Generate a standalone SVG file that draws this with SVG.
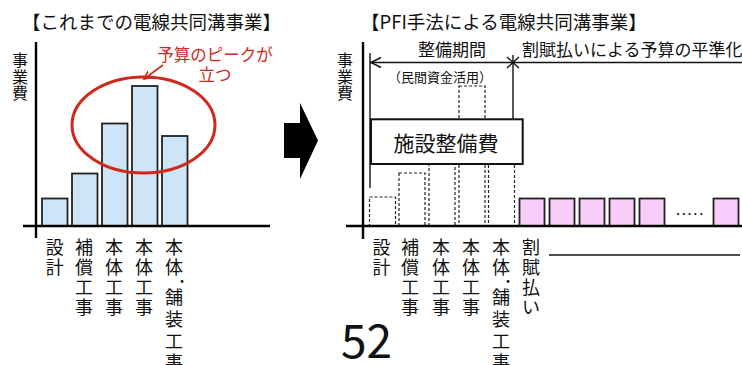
<svg xmlns="http://www.w3.org/2000/svg" width="742" height="365" viewBox="0 0 742 365">
<style>
text{font-family:"Noto Sans CJK JP","Noto Sans CJK SC",sans-serif;fill:#111}
.ttl{font-size:18.5px}
.yl{font-size:16px;text-anchor:middle}
.xl{font-size:18px;text-anchor:middle}
.dot{font-size:13px;text-anchor:middle}
.red{font-size:16.5px;fill:#d0281c;text-anchor:middle}
.axis{stroke:#000;stroke-width:2.4;fill:none}
.bar{fill:#cde5f7;stroke:#222;stroke-width:1.8}
.dash{fill:none;stroke:#222;stroke-width:1.2;stroke-dasharray:3 2}
.pink{fill:#f9ccf9;stroke:#222;stroke-width:1.8}
.thin{stroke:#111;stroke-width:1.4;fill:none}
</style>
<defs>
<marker id="redhead" markerWidth="10" markerHeight="10" refX="8" refY="5" orient="auto" markerUnits="userSpaceOnUse">
<path d="M0,1 L8,5 L0,9" fill="none" stroke="#d0281c" stroke-width="1.6"/>
</marker>
</defs>

<g id="left-chart">
<text class="ttl" x="22" y="29">【これまでの電線共同溝事業】</text>
<text class="yl"><tspan x="20" y="66">事</tspan><tspan x="20" y="82.5">業</tspan><tspan x="20" y="99">費</tspan></text>
<rect class="bar" x="42" y="198.5" width="25.5" height="27.5"/>
<rect class="bar" x="72" y="173.5" width="25.5" height="52.5"/>
<rect class="bar" x="102" y="123.5" width="25.5" height="102.5"/>
<rect class="bar" x="132" y="86" width="25.5" height="140"/>
<rect class="bar" x="162" y="136" width="25.5" height="90"/>
<line class="axis" x1="36" y1="42" x2="36" y2="238"/>
<line class="axis" x1="23" y1="226" x2="270" y2="226" stroke-width="2.6"/>
<ellipse cx="143.5" cy="125" rx="71.5" ry="48" fill="none" stroke="#d0281c" stroke-width="3"/>
<text class="red" x="215" y="61">予算のピークが</text>
<text class="red" x="215" y="81">立つ</text>
<text class="xl"><tspan x="54.7" y="254">設</tspan><tspan x="54.7" y="274">計</tspan></text>
<text class="xl"><tspan x="84" y="254">補</tspan><tspan x="84" y="274">償</tspan><tspan x="84" y="294">工</tspan><tspan x="84" y="314">事</tspan></text>
<text class="xl"><tspan x="114" y="254">本</tspan><tspan x="114" y="274">体</tspan><tspan x="114" y="294">工</tspan><tspan x="114" y="314">事</tspan></text>
<text class="xl"><tspan x="144" y="254">本</tspan><tspan x="144" y="274">体</tspan><tspan x="144" y="294">工</tspan><tspan x="144" y="314">事</tspan></text>
<text class="xl"><tspan x="174" y="254">本</tspan><tspan x="174" y="274">体</tspan><tspan class="dot" x="182" y="286">・</tspan><tspan x="174" y="304">舗</tspan><tspan x="174" y="326">装</tspan><tspan x="174" y="348">工</tspan><tspan x="174" y="369">事</tspan></text>
</g>

<g id="transition-arrow">
<polygon points="284,123 300,123 300,103 318,140.5 300,179 300,158 284,158" fill="#000"/>
</g>

<g id="right-chart">
<text class="ttl" x="361" y="29">【PFI手法による電線共同溝事業】</text>
<text class="yl"><tspan x="345" y="66">事</tspan><tspan x="345" y="82.5">業</tspan><tspan x="345" y="99">費</tspan></text>
<text x="452" y="56" font-size="17" text-anchor="middle">整備期間</text>
<text x="522" y="56" font-size="17">割賦払いによる予算の平準化</text>
<text x="440" y="82" font-size="13" text-anchor="middle">（民間資金活用）</text>
<rect class="dash" x="369.5" y="197" width="26" height="29"/>
<rect class="dash" x="399" y="173" width="26" height="53"/>
<rect class="dash" x="429" y="123" width="26" height="103"/>
<rect class="dash" x="459" y="86" width="26" height="140"/>
<rect class="dash" x="488.5" y="136" width="26" height="90"/>
<rect class="pink" x="519.5" y="198.5" width="25" height="27.5"/>
<rect class="pink" x="549.5" y="198.5" width="25" height="27.5"/>
<rect class="pink" x="579.5" y="198.5" width="25" height="27.5"/>
<rect class="pink" x="609.5" y="198.5" width="25" height="27.5"/>
<rect class="pink" x="639.5" y="198.5" width="25" height="27.5"/>
<rect class="pink" x="713.5" y="198.5" width="25" height="27.5"/>
<text x="690.5" y="215" font-size="15" text-anchor="middle" letter-spacing="1.6" font-family="Liberation Sans, sans-serif">.....</text>
<line class="axis" x1="363" y1="42" x2="363" y2="239"/>
<line class="axis" x1="346" y1="226" x2="742" y2="226" stroke-width="2.6"/>
<g id="period-markers">
<line class="thin" x1="370" y1="53" x2="370" y2="188"/>
<line class="thin" x1="513" y1="55" x2="513" y2="119"/>
<line class="thin" x1="370" y1="62.5" x2="742" y2="62.5"/>
<path class="thin" d="M381,57.5 L371,62.5 L381,67.5"/>
<path class="thin" d="M507,57 L519,68 M507,68 L519,57"/>
<line class="thin" x1="549" y1="255" x2="740" y2="255"/>
</g>
<g id="box-facility">
<rect x="371" y="119.3" width="151.7" height="44.7" fill="#fff" stroke="#111" stroke-width="2"/>
<text x="446" y="151" font-size="21" text-anchor="middle">施設整備費</text>
</g>
<text class="xl"><tspan x="381.5" y="254">設</tspan><tspan x="381.5" y="274">計</tspan></text>
<text class="xl"><tspan x="410" y="254">補</tspan><tspan x="410" y="274">償</tspan><tspan x="410" y="294">工</tspan><tspan x="410" y="314">事</tspan></text>
<text class="xl"><tspan x="441" y="254">本</tspan><tspan x="441" y="274">体</tspan><tspan x="441" y="294">工</tspan><tspan x="441" y="314">事</tspan></text>
<text class="xl"><tspan x="471" y="254">本</tspan><tspan x="471" y="274">体</tspan><tspan x="471" y="294">工</tspan><tspan x="471" y="314">事</tspan></text>
<text class="xl"><tspan x="501" y="254">本</tspan><tspan x="501" y="274">体</tspan><tspan class="dot" x="508" y="286">・</tspan><tspan x="501" y="304">舗</tspan><tspan x="501" y="326">装</tspan><tspan x="501" y="348">工</tspan><tspan x="501" y="369">事</tspan></text>
<text class="xl"><tspan x="531" y="254">割</tspan><tspan x="531" y="274">賦</tspan><tspan x="531" y="294">払</tspan><tspan x="531" y="314">い</tspan></text>
<text x="341" y="358" font-size="46" font-family="Liberation Sans, Arial, sans-serif">52</text>
</g>

<g id="connectors">
<line x1="163" y1="65" x2="144" y2="79" stroke="#d0281c" stroke-width="1.6" marker-end="url(#redhead)"/>
</g>
</svg>
